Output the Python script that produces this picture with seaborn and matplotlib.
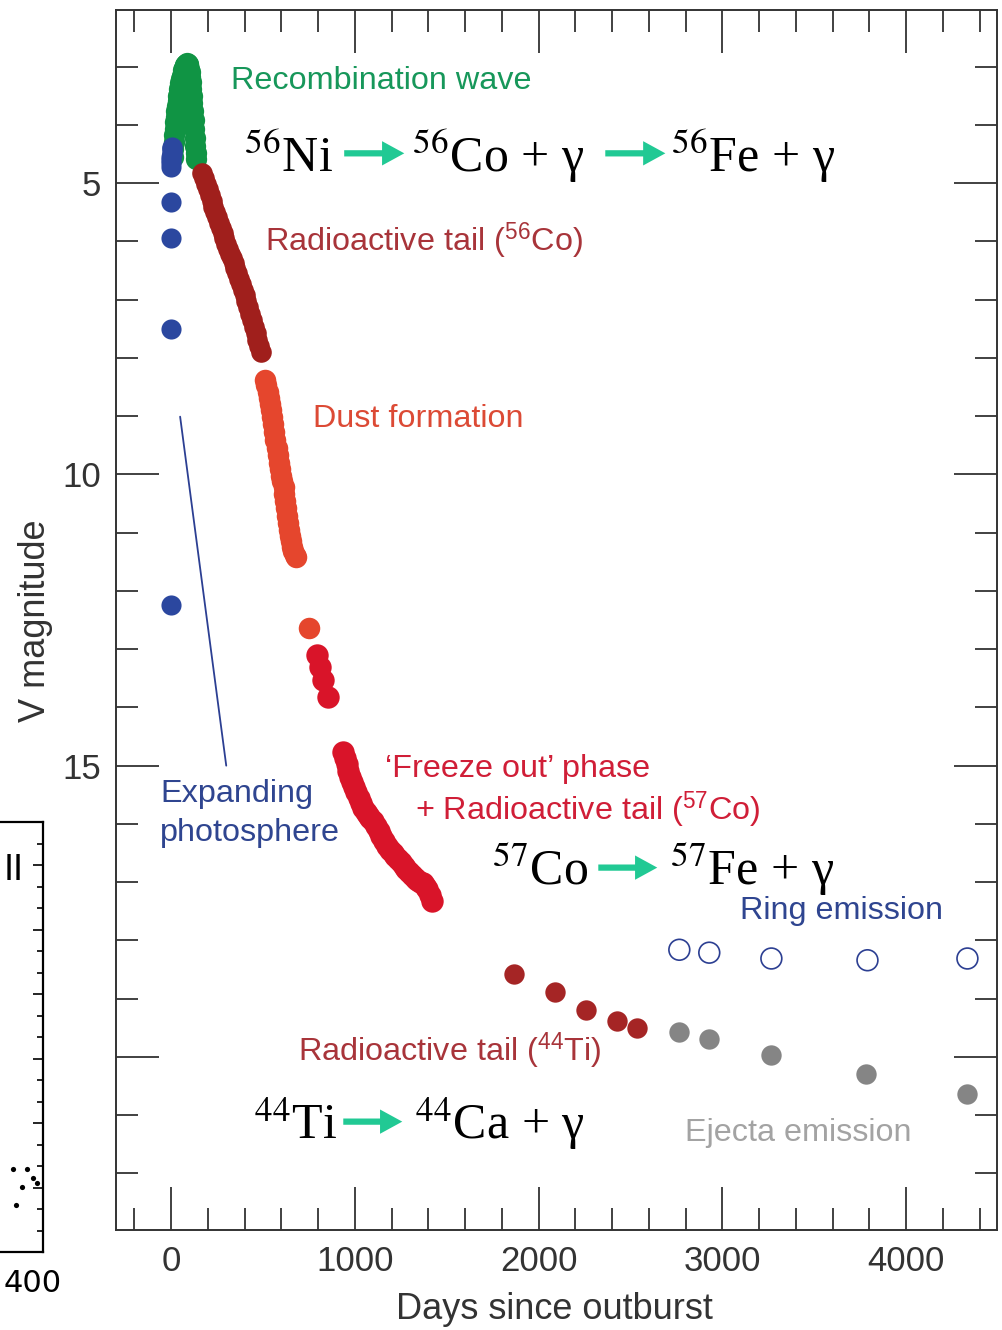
import matplotlib
matplotlib.use("Agg")
import matplotlib.pyplot as plt
import seaborn as sns
import pandas as pd
from matplotlib.patches import FancyArrowPatch
from matplotlib.ticker import MultipleLocator, FixedLocator

# ---------------- SN 1987A V-band light curve ----------------
# (days since outburst, V magnitude)
early_days = [0, 0, 0, 0, 0.5, 1, 1.5, 2, 2.5, 3, 4, 5, 6]
early_mag = [12.24, 7.50, 5.94, 5.33, 4.73, 4.66, 4.60, 4.55, 4.50, 4.46,
             4.42, 4.40, 4.38]

recomb_days = [8, 11, 14, 17, 20, 23, 26, 29, 32, 35, 38, 41, 44, 47, 50, 54,
               58, 62, 66, 70, 74, 78, 82, 86, 90, 94, 98, 101, 104, 107, 110,
               113, 116, 119, 122, 125, 128, 131, 134, 137]
recomb_mag = [4.55, 4.42, 4.30, 4.18, 4.07, 3.96, 3.86, 3.76, 3.67, 3.59, 3.51,
              3.45, 3.39, 3.33, 3.28, 3.22, 3.16, 3.11, 3.06, 3.02, 2.99, 2.97,
              2.95, 2.94, 2.95, 2.98, 3.04, 3.10, 3.18, 3.27, 3.38, 3.50, 3.63,
              3.77, 3.92, 4.07, 4.22, 4.36, 4.48, 4.58]

co56_days = [170, 180, 190, 200, 210, 220, 230, 240, 250, 260, 270, 280, 290,
             300, 310, 320, 330, 340, 350, 360, 370, 380, 390, 400, 410, 420,
             430, 440, 450, 460, 470, 480, 490]
co56_mag = [4.83, 4.92, 5.02, 5.11, 5.20, 5.31, 5.41, 5.50, 5.59, 5.68, 5.77,
            5.86, 5.95, 6.04, 6.13, 6.21, 6.29, 6.37, 6.46, 6.55, 6.64, 6.74,
            6.84, 6.93, 7.03, 7.13, 7.24, 7.35, 7.47, 7.58, 7.70, 7.80, 7.90]

dust_days = [512, 518, 525, 531, 538, 544, 550, 556, 562, 568, 575, 581, 588,
             594, 600, 606, 612, 617, 622, 627, 632, 638, 643, 649, 655, 660,
             666, 672, 678, 751]
dust_mag = [8.38, 8.47, 8.58, 8.69, 8.80, 8.90, 9.01, 9.14, 9.28, 9.41, 9.55,
            9.67, 9.80, 9.91, 10.02, 10.12, 10.22, 10.33, 10.45, 10.58, 10.72,
            10.84, 10.95, 11.05, 11.15, 11.24, 11.32, 11.38, 11.42, 12.63]

freeze_days = [795, 811, 828, 855,
               937, 946, 955, 965, 975, 986, 997, 1008, 1020, 1032, 1045, 1058,
               1070, 1085, 1100, 1115, 1130, 1145, 1160, 1175, 1190, 1205, 1220,
               1235, 1250, 1265, 1280, 1295, 1310, 1325, 1340, 1355, 1370, 1383,
               1395, 1408, 1421]
freeze_mag = [13.10, 13.30, 13.53, 13.82,
              14.76, 14.87, 14.98, 15.09, 15.20, 15.28, 15.36, 15.46, 15.55,
              15.64, 15.72, 15.79, 15.85, 15.90, 15.95, 16.04, 16.12, 16.21,
              16.30, 16.38, 16.45, 16.50, 16.55, 16.61, 16.66, 16.72, 16.78,
              16.83, 16.88, 16.92, 16.96, 16.99, 17.02, 17.06, 17.12, 17.22,
              17.33]

ti44_days = [1868, 2091, 2260, 2428, 2537]
ti44_mag = [18.58, 18.89, 19.20, 19.39, 19.51]

ejecta_days = [2766, 2929, 3267, 3784, 4334]
ejecta_mag = [19.58, 19.70, 19.96, 20.30, 20.64]

ring_days = [2766, 2929, 3267, 3790, 4334]
ring_mag = [18.16, 18.21, 18.31, 18.34, 18.31]

photosphere_days = [49, 300]
photosphere_mag = [9.01, 15.0]

ytick_values = [5, 10, 15, 20]
ytick_labels = ["5", "10", "15", ""]

# small neighbouring panel at the left edge
side_x = [255, 323, 299, 270, 352, 371]
side_y = [3.86, 3.86, 3.02, 2.19, 3.44, 3.21]

# ---------------- colours ----------------
BLUE = "#2b479f"
GREEN = "#109444"
DARKRED = "#a01f1c"
ORANGE = "#e5462d"
RED = "#d91429"
TIRED = "#a52525"
GREY = "#858585"
NAVY = "#2c3f92"
TEAL = "#21c994"
INK = "#333333"

sns.set_theme(style="white")
plt.rcParams["font.family"] = ["Liberation Sans", "DejaVu Sans"]
plt.rcParams["mathtext.fontset"] = "custom"
plt.rcParams["mathtext.rm"] = "Liberation Sans"
plt.rcParams["mathtext.it"] = "Liberation Sans:italic"

fig = plt.figure(figsize=(10.03, 13.30), dpi=100)
ax = fig.add_axes([116 / 1003, 1 - 1230 / 1330, 881 / 1003, 1220 / 1330])


def series(days, mag):
    return pd.DataFrame({"day": days, "mag": mag})


sns.lineplot(data=series(photosphere_days, photosphere_mag), x="day", y="mag",
             color=NAVY, lw=1.3, ax=ax)
sns.scatterplot(data=series(recomb_days, recomb_mag), x="day", y="mag",
                color=GREEN, s=235, linewidth=0, ax=ax)
sns.scatterplot(data=series(early_days, early_mag), x="day", y="mag",
                color=BLUE, s=210, linewidth=0, ax=ax)
sns.scatterplot(data=series(co56_days, co56_mag), x="day", y="mag",
                color=DARKRED, s=220, linewidth=0, ax=ax)
sns.scatterplot(data=series(dust_days, dust_mag), x="day", y="mag",
                color=ORANGE, s=240, linewidth=0, ax=ax)
sns.scatterplot(data=series(freeze_days, freeze_mag), x="day", y="mag",
                color=RED, s=260, linewidth=0, ax=ax)
sns.scatterplot(data=series(ti44_days, ti44_mag), x="day", y="mag",
                color=TIRED, s=215, linewidth=0, ax=ax)
sns.scatterplot(data=series(ejecta_days, ejecta_mag), x="day", y="mag",
                color=GREY, s=215, linewidth=0, ax=ax)
sns.scatterplot(data=series(ring_days, ring_mag), x="day", y="mag",
                facecolor="none", edgecolor=NAVY, s=225, linewidth=1.2, ax=ax)

ax.set_xlim(-300, 4495)
ax.set_ylim(22.97, 2.03)

ax.xaxis.set_major_locator(MultipleLocator(1000))
ax.xaxis.set_minor_locator(MultipleLocator(200))
ax.yaxis.set_major_locator(FixedLocator(ytick_values))
ax.yaxis.set_minor_locator(MultipleLocator(1))
ax.set_yticklabels(ytick_labels)
ax.tick_params(which="both", direction="in", top=True, right=True,
               bottom=True, left=True, color=INK, width=1.3,
               labelcolor=INK, labelsize=25)
ax.tick_params(which="major", length=31, pad=11)
ax.tick_params(which="minor", length=16)
for sp in ax.spines.values():
    sp.set_color(INK)
    sp.set_linewidth(1.4)

ax.set_xlabel("Days since outburst", fontsize=26, color=INK)
ax.set_ylabel("V magnitude", fontsize=26, color=INK)
ax.xaxis.set_label_coords(0.498, -0.051)
ax.yaxis.set_label_coords(-0.072, 0.499)

# ---------------- phase labels ----------------
lab = dict(fontsize=23.3, ha="left", va="baseline")
ax.text(327, 3.39, "Recombination wave", color="#17975a", **lab)
ax.text(512, 6.18, r"Radioactive tail ($^{56}$Co)", color="#a8343a", **lab)
ax.text(773, 9.19, "Dust formation", color="#dc4a35", **lab)
ax.text(1165, 15.19, "\u2018Freeze out\u2019 phase", color="#d01e37", **lab)
ax.text(1329, 15.94, r"+ Radioactive tail ($^{57}$Co)", color="#d01e37", **lab)
ax.text(-60, 15.63, "Expanding", color="#2f4590", **lab)
ax.text(-60, 16.30, "photosphere", color="#2f4590", **lab)
ax.text(3098, 17.64, "Ring emission", color="#2f4590", **lab)
ax.text(692, 20.08, r"Radioactive tail ($^{44}$Ti)", color="#a8343a", **lab)
ax.text(2799, 21.45, "Ejecta emission", color="#a3a3a3", **lab)

# ---------------- decay chains ----------------
GAMMA = "\u03b3"
eq = dict(fontsize=36, ha="left", va="baseline", color="black",
          family=["Liberation Serif", "DejaVu Serif"], math_fontfamily="stix")
ax.text(397, 4.81, r"$^{56}$Ni", **eq)
ax.text(1312, 4.81, r"$^{56}$Co + " + GAMMA, **eq)
ax.text(2723, 4.81, r"$^{56}$Fe + " + GAMMA, **eq)
ax.text(1748, 17.04, r"$^{57}$Co", **eq)
ax.text(2717, 17.04, r"$^{57}$Fe + " + GAMMA, **eq)
ax.text(452, 21.40, r"$^{44}$Ti", **eq)
ax.text(1329, 21.40, r"$^{44}$Ca + " + GAMMA, **eq)

arrows = [((942, 4.49), (1269, 4.49)), ((2363, 4.49), (2690, 4.49)),
          ((2325, 16.75), (2646, 16.75)), ((937, 21.11), (1258, 21.11))]
for a, b in arrows:
    ax.add_patch(FancyArrowPatch(a, b, arrowstyle="simple,head_length=1.6,"
                                 "head_width=1.75,tail_width=0.45",
                                 mutation_scale=10, color=TEAL, lw=0,
                                 shrinkA=0, shrinkB=0))

# ---------------- neighbouring panel fragment ----------------
side = fig.add_axes([-40 / 1003, 1 - 1252 / 1330, 83 / 1003, 430 / 1330])
side.set_xlim(0, 400)
side.set_ylim(0, 20)
sns.scatterplot(x=side_x, y=side_y, color="black", s=14, linewidth=0, ax=side)
side.spines["left"].set_visible(False)
for k in ("top", "right", "bottom"):
    side.spines[k].set_color("black")
    side.spines[k].set_linewidth(1.6)
side.set_xticks([])
side.yaxis.tick_right()
side.yaxis.set_major_locator(MultipleLocator(3))
side.yaxis.set_minor_locator(MultipleLocator(1))
side.tick_params(axis="y", which="both", direction="in", labelright=False,
                 color="black", width=1.2)
side.tick_params(axis="y", which="major", length=7)
side.tick_params(axis="y", which="minor", length=4)
side.set_facecolor("none")
fig.text(14 / 1003, 1 - 870 / 1330, "II", fontsize=26, color="black",
         ha="center", va="center")
fig.text(33 / 1003, 1 - 1284 / 1330, "400", fontsize=22, color="black",
         ha="center", va="center", family=["DejaVu Sans"])

fig.savefig("out.png", dpi=100)
